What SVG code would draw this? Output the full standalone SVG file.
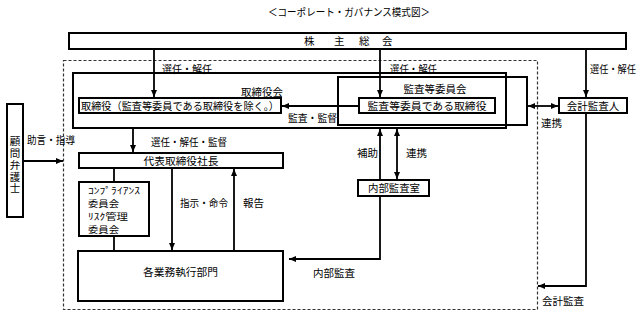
<svg xmlns="http://www.w3.org/2000/svg" width="644" height="315" viewBox="0 0 644 315">
<style>
text{font-family:"Noto Sans CJK JP","Noto Sans",sans-serif;font-size:10.5px;fill:#000}
.c{text-anchor:middle}
.box{fill:#fff;stroke:#000;stroke-width:2}
.grp{fill:none;stroke:#000;stroke-width:2}
.dash{fill:none;stroke:#333;stroke-width:1.2;stroke-dasharray:3 2}
.ln{fill:none;stroke:#000;stroke-width:1.8}
.ar{marker-end:url(#ah)}
.ar2{marker-start:url(#ah);marker-end:url(#ah)}
.sm{font-size:9px}
</style>
<defs>
<marker id="ah" markerUnits="userSpaceOnUse" markerWidth="7" markerHeight="6" refX="7" refY="3" orient="auto-start-reverse">
<path d="M0,0 L7,3 L0,6 z" fill="#000"/>
</marker>
</defs>
<rect width="644" height="315" fill="#fff"/>
<text class="c" x="349" y="16" font-size="11" textLength="162" lengthAdjust="spacingAndGlyphs">＜コーポレート・ガバナンス模式図＞</text>

<g id="company-boundary"><rect class="dash" x="63.5" y="60.5" width="474" height="249"/></g>
<g id="board"><rect class="grp" x="73" y="73" width="433" height="55"/><text class="c" x="262" y="96" font-size="11.5">取締役会</text></g>
<g id="audit-committee"><rect class="grp" x="338" y="77" width="189" height="48"/><text class="c" x="435" y="93" font-size="11.5">監査等委員会</text></g>

<g id="connectors">
<path class="ln ar" d="M154,49 V97"/>
<path class="ln ar" d="M380,49 V97"/>
<path class="ln ar" d="M586,49 V97"/>
<path class="ln ar" d="M359,106 H282"/>
<path class="ln ar2" d="M528,106 H558"/>
<path class="ln ar" d="M133,129 V152"/>
<path class="ln ar" d="M23,161 H63"/>
<path class="ln" d="M114,168 V251"/>
<path class="ln ar" d="M172,168 V250"/>
<path class="ln ar" d="M234,251 V169"/>
<path class="ln ar2" d="M289,259 H380 V129"/>
<path class="ln ar2" d="M397,129 V179"/>
<path class="ln ar" d="M586,113 V286 H538"/>
<text x="162" y="73" textLength="50" lengthAdjust="spacingAndGlyphs">選任・解任</text>
<text x="390" y="73" textLength="47" lengthAdjust="spacingAndGlyphs">選任・解任</text>
<text x="590" y="73" textLength="46" lengthAdjust="spacingAndGlyphs">選任・解任</text>
<text x="288" y="122" textLength="49" lengthAdjust="spacingAndGlyphs">監査・監督</text>
<text x="541" y="127">連携</text>
<text x="151" y="146" textLength="76" lengthAdjust="spacingAndGlyphs">選任・解任・監督</text>
<text x="27" y="144" textLength="48" lengthAdjust="spacingAndGlyphs">助言・指導</text>
<text x="180" y="207" textLength="48" lengthAdjust="spacingAndGlyphs">指示・命令</text>
<text x="243" y="207">報告</text>
<text x="357" y="157">補助</text>
<text x="406" y="157">連携</text>
<text x="313" y="277">内部監査</text>
<text x="542" y="305">会計監査</text>
</g>

<g id="shareholders"><rect class="box" x="69" y="33" width="557" height="16"/><text x="304 334 359 382" y="45">株主総会</text></g>
<g id="directors"><rect class="box" x="79" y="98" width="202" height="15"/><text class="c" x="180" y="109.5" textLength="198" lengthAdjust="spacingAndGlyphs">取締役（監査等委員である取締役を除く。）</text></g>
<g id="audit-directors"><rect class="box" x="359" y="98" width="136" height="15"/><text class="c" x="427" y="109.5" textLength="119" lengthAdjust="spacingAndGlyphs">監査等委員である取締役</text></g>
<g id="accounting-auditor"><rect class="box" x="559" y="98" width="68" height="15"/><text class="c" x="593" y="109.5">会計監査人</text></g>
<g id="ceo"><rect class="box" x="79" y="153" width="204" height="15"/><text class="c" x="181" y="164.5" textLength="75" lengthAdjust="spacingAndGlyphs">代表取締役社長</text></g>
<g id="committees"><rect class="box" x="79" y="182" width="70" height="54"/>
<text class="sm" x="88" y="193.5" textLength="52" lengthAdjust="spacingAndGlyphs">ｺﾝﾌﾟﾗｲｱﾝｽ</text>
<text class="sm" x="88" y="206.5" textLength="31" lengthAdjust="spacingAndGlyphs">委員会</text>
<text class="sm" x="88" y="219.5" textLength="40" lengthAdjust="spacingAndGlyphs">ﾘｽｸ管理</text>
<text class="sm" x="88" y="232.5" textLength="31" lengthAdjust="spacingAndGlyphs">委員会</text></g>
<g id="business-divisions"><rect class="box" x="78" y="251" width="205" height="50"/><text class="c" x="180.5" y="276" textLength="75" lengthAdjust="spacingAndGlyphs">各業務執行部門</text></g>
<g id="internal-audit"><rect class="box" x="358" y="180" width="71" height="16"/><text class="c" x="394" y="192" textLength="52" lengthAdjust="spacingAndGlyphs">内部監査室</text></g>
<g id="legal-counsel"><rect class="box" x="7" y="104" width="16" height="113"/>
<text x="15" y="136" writing-mode="vertical-rl" letter-spacing="1.3">顧問弁護士</text></g>
</svg>
